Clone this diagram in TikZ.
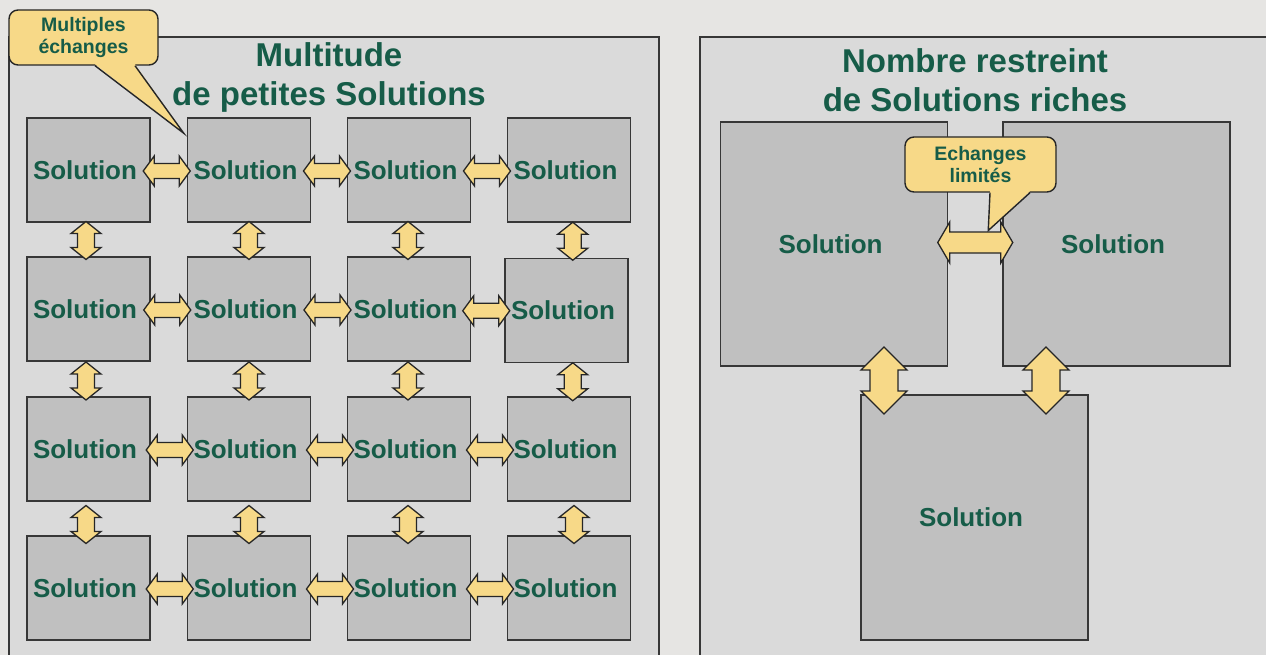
\documentclass[tikz,border=0pt]{standalone}
\usepackage{fontspec}
\setmainfont{Liberation Sans}
\usetikzlibrary{calc}
\definecolor{bgcol}{RGB}{230,229,227}
\definecolor{panelcol}{RGB}{218,218,218}
\definecolor{boxcol}{RGB}{192,192,192}
\definecolor{edgecol}{RGB}{55,55,55}
\definecolor{txtgreen}{RGB}{22,92,72}
\definecolor{yellowcol}{RGB}{247,217,136}
\tikzset{
  panel/.style={draw=edgecol,fill=panelcol,line width=1.8pt},
  sbox/.style={draw=edgecol,fill=boxcol,line width=1.4pt,minimum width=123,minimum height=104,inner sep=0pt,
    text=txtgreen,font=\bfseries\fontsize{26}{30}\selectfont,execute at begin node={\hspace*{-7pt}}},
  bbox/.style={draw=edgecol,fill=boxcol,line width=1.4pt,minimum width=227,minimum height=244,inner sep=0pt,
    text=txtgreen,font=\bfseries\fontsize{26}{30}\selectfont,execute at begin node={\hspace*{-7pt}}},
  titletext/.style={anchor=base,text=txtgreen,font=\bfseries\fontsize{33}{39}\selectfont,inner sep=0pt},
  calloutbox/.style={draw=black!85,fill=yellowcol,line width=1.4pt,rounded corners=9pt,minimum width=149,minimum height=55,
    inner sep=0pt,align=center,text=txtgreen,font=\bfseries\fontsize{19.5}{22}\selectfont},
  arr/.style={draw=black!85,fill=yellowcol,line width=1.3pt,line join=miter},
}
% #1 centre, #2 rotation, #3 half length, #4 half width, #5 half shaft, #6 head length
\newcommand\blockarrow[6]{%
  \begin{scope}[shift={#1},rotate=#2]
    \draw[arr] (-#3,0) -- ({-#3+#6},-#4) -- ({-#3+#6},-#5) -- ({#3-#6},-#5) -- ({#3-#6},-#4) -- (#3,0)
      -- ({#3-#6},#4) -- ({#3-#6},#5) -- ({-#3+#6},#5) -- ({-#3+#6},#4) -- cycle;
  \end{scope}}
\newcommand\harrsmall[1]{\blockarrow{#1}{0}{23.5}{15}{7.5}{11}}
\newcommand\varrsmall[1]{\blockarrow{#1}{90}{19}{15}{8.5}{12}}
\begin{document}
\begin{tikzpicture}[x=1pt,y=-1pt]
\useasboundingbox (0,0) rectangle (1266,655);
\fill[bgcol] (0,0) rectangle (1266,655);
% panels
\draw[panel] (9,37) rectangle (659,680);
\draw[panel] (700,37) rectangle (1290,680);
% titles
\node[titletext] (tl1) at (329,67) {Multitude};
\node[titletext] (tl2) at (329,106) {de petites Solutions};
\node[titletext] (tr1) at (975,73) {Nombre restreint};
\node[titletext] (tr2) at (975,112) {de Solutions riches};
% small boxes
\foreach \r/\y in {1/170,2/309,3/449,4/588}{
  \foreach \c/\x in {1/88.5,2/249,3/409}{
    \node[sbox] (s\r\c) at (\x,\y) {Solution};
  }
}
\node[sbox] (s14) at (569,170) {Solution};
\node[sbox] (s24) at (566.5,310.5) {Solution};
\node[sbox] (s34) at (569,449) {Solution};
\node[sbox] (s44) at (569,588) {Solution};
% horizontal arrows
\foreach \r/\dx in {1/-2,2/-1.5,3/1,4/1}{
  \harrsmall{($(s\r1.east)!0.5!(s\r2.west)+(\dx,1)$)}
  \harrsmall{($(s\r2.east)!0.5!(s\r3.west)+(\dx,1)$)}
  \harrsmall{($(s\r3.east)!0.5!(s\r4.west)+(\dx,1)$)}
}
% vertical arrows
\foreach \r/\n/\dy in {1/2/1,2/3/2,3/4/6}{
  \varrsmall{($(s\r1.south)!0.5!(s\n1.north)+(-2.5,\dy)$)}
  \varrsmall{($(s\r2.south)!0.5!(s\n2.north)+(0,\dy)$)}
  \varrsmall{($(s\r3.south)!0.5!(s\n3.north)+(-1,\dy)$)}
  \varrsmall{($(s\r4.south)!0.5!(s\n4.north)+(5,\dy)$)}
}
% big boxes
\node[bbox] (bl) at (834,244) {Solution};
\node[bbox] (br) at (1116.5,244) {Solution};
\node[bbox,minimum height=245] (bb) at (974.5,517.5) {Solution};
% callout 1
\node[calloutbox] (c1) at (83.5,37.5) {Multiples\\échanges};
\coordinate (t1) at ($(s12.north west)+(-3,16)$);
\fill[yellowcol] ($(c1.south)+(11.5,-1.5)$) -- (t1) -- ($(c1.south)+(51.5,-1.5)$) -- cycle;
\draw[black!85,line width=1.4pt,line join=miter] ($(c1.south)+(11.5,0)$) -- (t1) -- ($(c1.south)+(51.5,0)$);
% callout 2
\coordinate (hm) at ($(bl.east)!0.5!(br.west)+(0,-1.5)$);
\node[calloutbox,minimum width=151] (c2) at (980.5,164.5) {Echanges\\limités};
\coordinate (t2) at ($(hm)+(13,-12)$);
\fill[yellowcol] ($(c2.south)+(9.5,-1.5)$) -- (t2) -- ($(c2.south)+(49.5,-1.5)$) -- cycle;
\draw[black!85,line width=1.4pt,line join=miter] ($(c2.south)+(9.5,0)$) -- (t2) -- ($(c2.south)+(49.5,0)$);
% big arrows
\blockarrow{(hm)}{0}{37.5}{20.5}{10.5}{12}
\blockarrow{($(bl.south)!0.5!(bb.north)+(-20.25,0)$)}{90}{33.5}{23}{14}{23}
\blockarrow{($(br.south)!0.5!(bb.north)+(0.5,0)$)}{90}{33.5}{23}{14}{23}
\end{tikzpicture}
\end{document}
